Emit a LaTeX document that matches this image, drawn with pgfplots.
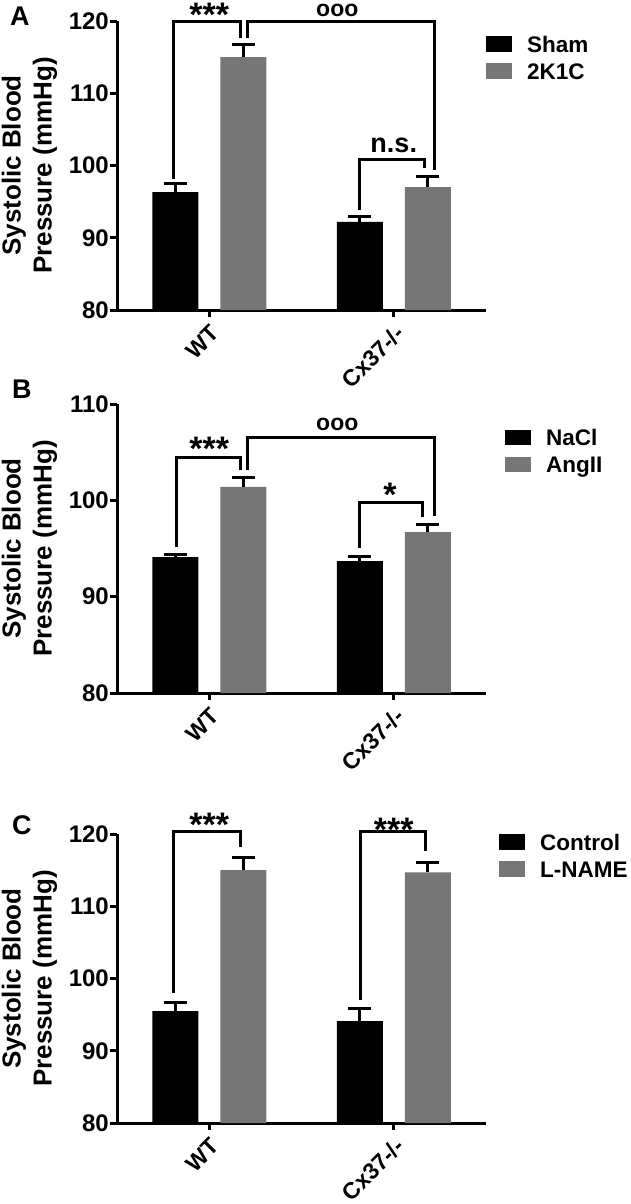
\documentclass[border=0pt]{standalone}
\usepackage{fontspec}
\setmainfont{Liberation Sans}
\usepackage{pgfplots}
\pgfplotsset{compat=1.18}
\definecolor{bargray}{RGB}{118,118,118}
\pgfplotsset{
 panel/.style={
  scale only axis, width=369pt, height=289pt,
  xmin=-0.5, xmax=1.5, ymin=80,
  axis x line*=bottom, axis y line*=left,
  axis line style={line width=3pt, -},
  tick style={line width=3pt, black},
  tick align=outside, major tick length=7pt,
  xtick={0,1}, xticklabels={WT, Cx37-/-},
  xticklabel shift=5pt,
  x tick label style={rotate=45, anchor=north east, font=\fontsize{23}{23}\selectfont\bfseries, inner sep=1pt},
  y tick label style={font=\fontsize{24}{24}\selectfont\bfseries, inner sep=1pt},
  /pgf/number format/assume math mode=true,
  ylabel={Systolic Blood\\Pressure (mmHg)},
  ylabel style={align=center, font=\fontsize{26}{31}\selectfont\bfseries, at={(axis description cs:-0.237,0.5)}, anchor=center},
  ybar, bar width=46pt,
  clip mode=individual,
  legend style={draw=none, fill=none, inner sep=0pt, anchor=north west, font=\fontsize{22.5}{22.5}\selectfont\bfseries, row sep=11pt, nodes={inner sep=0pt, text height=16pt, text depth=0pt}, /tikz/every odd column/.append style={column sep=15pt}},
  legend cell align=left,
  legend image code/.code={\fill[#1, draw=none] (0pt,-7.75pt) rectangle (26pt,7.75pt);},
 },
 sham/.style={fill=black, draw=none, bar shift=-34pt,
  error bars/.cd, y dir=plus, y explicit,
  error bar style={line width=3pt, black, solid},
  error mark options={rotate=90, mark size=11.5pt, line width=3pt, black}},
 treat/.style={fill=bargray, draw=none, bar shift=34pt,
  error bars/.cd, y dir=plus, y explicit,
  error bar style={line width=3pt, black, solid},
  error mark options={rotate=90, mark size=11.5pt, line width=3pt, black}},
}
\tikzset{
 brk/.style={line width=3pt, black},
 star/.style={anchor=north, inner sep=0pt, font=\fontsize{34}{34}\selectfont\bfseries},
 deg/.style={anchor=north, inner sep=0pt, font=\fontsize{23}{23}\selectfont\bfseries},
 lab/.style={anchor=north west, inner sep=0pt, font=\fontsize{27}{27}\selectfont\bfseries},
}
\begin{document}
\begin{tikzpicture}
\useasboundingbox (0,0) rectangle (630pt,-1204pt);
% ---------------- Panel A
\begin{axis}[panel, at={(117pt,-310pt)}, anchor=south west, ymax=120, ytick={80,90,100,110,120},
  legend style={at={(axis description cs:1.0,0.948)}}]
\addplot[sham] coordinates {(0,96.3) +- (0,1.2) (1,92.2) +- (0,0.8)};
\addplot[treat] coordinates {(0,115.0) +- (0,1.8) (1,97.0) +- (0,1.5)};
\legend{Sham, 2K1C}
\draw[brk] (axis cs:-0.196,98.2) |- (axis cs:0.168,120) -- (axis cs:0.168,117.7);
\draw[brk] (axis cs:0.205,117.7) |- (axis cs:1.219,120) -- (axis cs:1.219,99.4);
\draw[brk] (axis cs:0.812,93.8) |- (axis cs:1.165,100.8) -- (axis cs:1.165,99.6);
\node[star] at (axis cs:0,122.5) {***};
\node[deg] at (axis cs:0.694,122.4) {ooo};
\node[anchor=north, inner sep=0pt, font=\fontsize{27}{27}\selectfont\bfseries] at (axis cs:1.0,103.9) {n.s.};
\end{axis}
% ---------------- Panel B
\begin{axis}[panel, at={(117pt,-693pt)}, anchor=south west, ymax=110, ytick={80,90,100,110},
  legend style={at={(axis description cs:1.051,0.913)}}]
\addplot[sham] coordinates {(0,94.1) +- (0,0.3) (1,93.7) +- (0,0.5)};
\addplot[treat] coordinates {(0,101.4) +- (0,1.0) (1,96.7) +- (0,0.8)};
\legend{NaCl, AngII}
\draw[brk] (axis cs:-0.179,95.2) |- (axis cs:0.168,104.47) -- (axis cs:0.168,103.2);
\draw[brk] (axis cs:0.205,103.2) |- (axis cs:1.219,106.5) -- (axis cs:1.219,98.4);
\draw[brk] (axis cs:0.812,95.1) |- (axis cs:1.156,99.75) -- (axis cs:1.156,98.3);
\node[star] at (axis cs:0,106.6) {***};
\node[deg] at (axis cs:0.694,108.6) {ooo};
\node[star] at (axis cs:0.98,101.8) {*};
\end{axis}
% ---------------- Panel C
\begin{axis}[panel, at={(117pt,-1123pt)}, anchor=south west, ymax=120, ytick={80,90,100,110,120},
  legend style={at={(axis description cs:1.035,1.0)}}]
\addplot[sham] coordinates {(0,95.5) +- (0,1.2) (1,94.1) +- (0,1.7)};
\addplot[treat] coordinates {(0,115.0) +- (0,1.8) (1,114.7) +- (0,1.4)};
\legend{Control, L-NAME}
\draw[brk] (axis cs:-0.194,98.0) |- (axis cs:0.168,120.4) -- (axis cs:0.168,118.2);
\draw[brk] (axis cs:0.818,97.0) |- (axis cs:1.174,120.3) -- (axis cs:1.174,117.7);
\node[star] at (axis cs:0,122.9) {***};
\node[star] at (axis cs:1.0,122.2) {***};
\end{axis}
\node[lab] at (10pt,-7pt) {A};
\node[lab] at (12pt,-380pt) {B};
\node[lab] at (12pt,-815pt) {C};
\end{tikzpicture}
\end{document}
